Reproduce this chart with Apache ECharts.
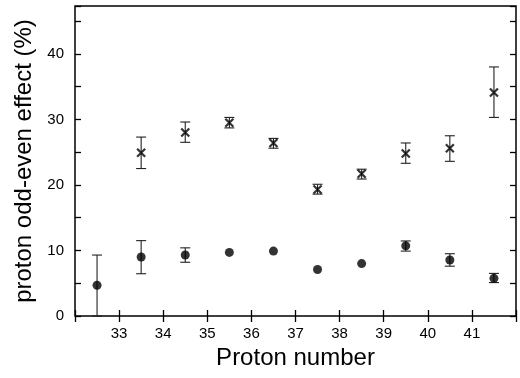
<!DOCTYPE html>
<html><head><meta charset="utf-8">
<script src="https://cdn.jsdelivr.net/npm/echarts@6/dist/echarts.min.js"></script>
<style>html,body{margin:0;padding:0;background:#fff}#c{width:520px;height:378px}</style>
</head><body><div id="c"></div>
<script>
const xCross = [33.5, 34.5, 35.5, 36.5, 37.5, 38.5, 39.5, 40.5, 41.5];
const crossVal = [24.9, 28.0, 29.5, 26.4, 19.3, 21.7, 24.8, 25.6, 34.1];
const crossLo  = [22.5, 26.5, 28.7, 25.6, 18.6, 20.9, 23.3, 23.6, 30.3];
const crossHi  = [27.3, 29.6, 30.3, 27.1, 20.1, 22.4, 26.4, 27.5, 38.0];
const xCircle = [32.5, 33.5, 34.5, 35.5, 36.5, 37.5, 38.5, 39.5, 40.5, 41.5];
const circVal = [4.7, 9.0, 9.3, 9.7, 9.9, 7.1, 8.0, 10.7, 8.55, 5.75];
const circLo  = [0.0, 6.45, 8.2, null, null, null, null, 9.9, 7.6, 5.1];
const circHi  = [9.3, 11.5, 10.4, null, null, null, null, 11.45, 9.5, 6.5];
const xTickLabels = [33, 34, 35, 36, 37, 38, 39, 40, 41];
const yTickLabels = [0, 10, 20, 30, 40];

const font = 'Liberation Sans, Arial, sans-serif';
function errData(xs, lo, hi) {
  const d = [];
  xs.forEach((x, i) => { if (lo[i] != null) d.push([x, lo[i], hi[i]]); });
  return d;
}
function renderErr(params, api) {
  const x = api.value(0), lo = api.value(1), hi = api.value(2);
  const pLo = api.coord([x, lo]), pHi = api.coord([x, hi]);
  const hw = 5;
  const st = {stroke: '#222', lineWidth: 1.1};
  return {type: 'group', children: [
    {type: 'line', shape: {x1: pLo[0], y1: pLo[1], x2: pHi[0], y2: pHi[1]}, style: st},
    {type: 'line', shape: {x1: pLo[0]-hw, y1: pLo[1], x2: pLo[0]+hw, y2: pLo[1]}, style: st},
    {type: 'line', shape: {x1: pHi[0]-hw, y1: pHi[1], x2: pHi[0]+hw, y2: pHi[1]}, style: st}
  ]};
}
const chart = echarts.init(document.getElementById('c'), null, {renderer: 'canvas'});
chart.setOption({
  animation: false,
  grid: {left: 75, right: 4, top: 6, bottom: 62, show: true, borderColor: '#000', borderWidth: 1.5, backgroundColor: 'transparent'},
  xAxis: [{
    type: 'value', min: 32, max: 42, interval: 1, position: 'bottom',
    name: 'Proton number', nameLocation: 'middle', nameGap: 29,
    nameTextStyle: {fontFamily: font, fontSize: 24, color: '#000'},
    axisLine: {show: false},
    axisTick: {inside: true, length: 6, lineStyle: {color: '#000', width: 1.3}},
    axisLabel: {fontFamily: font, fontSize: 15, color: '#000', margin: 10,
      formatter: v => xTickLabels.indexOf(Math.round(v)) >= 0 && Math.abs(v - Math.round(v)) < 1e-6 ? String(Math.round(v)) : ''},
    splitLine: {show: false}
  }, {
    type: 'value', min: 32, max: 42, interval: 1, position: 'top',
    axisLine: {show: false},
    axisTick: {inside: true, length: 6, lineStyle: {color: '#000', width: 1.3}},
    axisLabel: {show: false}, splitLine: {show: false}
  }],
  yAxis: [{
    type: 'value', min: 0, max: 47.3, interval: 5, position: 'left',
    name: 'proton odd-even effect (%)', nameLocation: 'middle', nameGap: 32,
    nameTextStyle: {fontFamily: font, fontSize: 24, color: '#000'},
    axisLine: {show: false},
    axisTick: {inside: true, length: 6, lineStyle: {color: '#000', width: 1.3}},
    axisLabel: {fontFamily: font, fontSize: 15, color: '#000', margin: 11,
      formatter: v => yTickLabels.indexOf(Math.round(v)) >= 0 && Math.abs(v - Math.round(v)) < 1e-6 ? String(Math.round(v)) : ''},
    splitLine: {show: false}
  }, {
    type: 'value', min: 0, max: 47.3, interval: 5, position: 'right',
    axisLine: {show: false},
    axisTick: {inside: true, length: 6, lineStyle: {color: '#000', width: 1.3}},
    axisLabel: {show: false}, splitLine: {show: false}
  }],
  series: [
    {type: 'custom', renderItem: renderErr, data: errData(xCross, crossLo, crossHi), z: 2},
    {type: 'custom', renderItem: renderErr, data: errData(xCircle, circLo, circHi), z: 2},
    {type: 'scatter', data: xCross.map((x, i) => [x, crossVal[i]]),
      symbol: 'path://M0,0L10,10M10,0L0,10', symbolSize: 8,
      itemStyle: {color: 'none', borderColor: '#000', borderWidth: 2.2}, z: 3},
    {type: 'scatter', data: xCircle.map((x, i) => [x, circVal[i]]),
      symbol: 'circle', symbolSize: 9, itemStyle: {color: '#000'}, z: 3}
  ]
});
</script></body></html>
